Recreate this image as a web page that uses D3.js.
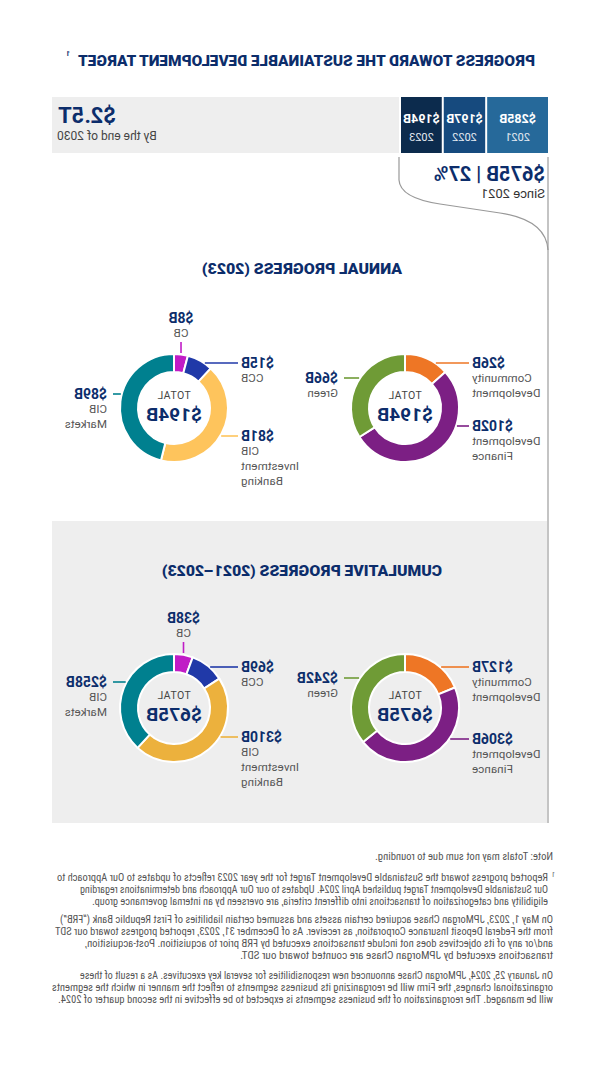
<!DOCTYPE html>
<html><head><meta charset="utf-8">
<script src="https://cdn.jsdelivr.net/npm/d3@7"></script>
<style>body{margin:0;background:#fff} svg{display:block}</style>
</head><body>
<svg id="c" width="602" height="1070"></svg>
<script>
// ---------------- DATA ----------------
const titleText = "PROGRESS TOWARD THE SUSTAINABLE DEVELOPMENT TARGET";
const targetLabel = "$2.5T";
const targetSub = "By the end of 2030";
const years = ["2021", "2022", "2023"];
const yearValues = [285, 197, 194];
const sinceLabel = "$675B | 27%";
const sinceSub = "Since 2021";

const annualTitle = "ANNUAL PROGRESS (2023)";
const cumulativeTitle = "CUMULATIVE PROGRESS (2021–2023)";
const annualTotal = "$194B";
const cumulativeTotal = "$675B";

const lobCategories = ["CB", "CCB", "CIB Investment Banking", "CIB Markets"];
const lobLines = [["CB"], ["CCB"], ["CIB", "Investment", "Banking"], ["CIB", "Markets"]];
const annualLob = [8, 15, 81, 89];
const cumulativeLob = [38, 69, 310, 258];

const objCategories = ["Community Development", "Development Finance", "Green"];
const objLines = [["Community", "Development"], ["Development", "Finance"], ["Green"]];
const annualObj = [26, 102, 66];
const cumulativeObj = [127, 306, 242];

const noteText = "Note: Totals may not sum due to rounding.";
const footnotes = [
  ["Reported progress toward the Sustainable Development Target for the year 2023 reflects of updates to Our Approach to",
   "Our Sustainable Development Target published April 2024. Updates to our Our Approach and determinations regarding",
   "eligibility and categorization of transactions into different criteria, are overseen by an internal governance group."],
  ["On May 1, 2023, JPMorgan Chase acquired certain assets and assumed certain liabilities of First Republic Bank (\u201CFRB\u201D)",
   "from the Federal Deposit Insurance Corporation, as receiver. As of December 31, 2023, reported progress toward our SDT",
   "and/or any of its objectives does not include transactions executed by FRB prior to acquisition. Post-acquisition,",
   "transactions executed by JPMorgan Chase are counted toward our SDT."],
  ["On January 25, 2024, JPMorgan Chase announced new responsibilities for several key executives. As a result of these",
   "organizational changes, the Firm will be reorganizing its business segments to reflect the manner in which the segments",
   "will be managed. The reorganization of the business segments is expected to be effective in the second quarter of 2024."]
];

// ---------------- STYLE / LAYOUT ----------------
const NAVY = "#0c2d6b";
const yearColors = ["#26699a", "#164a7e", "#0c2b4d"];
const lobColorsAnnual = ["#c01cc6", "#2039a8", "#fec45c", "#00808f"];
const lobColorsCum = ["#c01cc6", "#2039a8", "#ecb13d", "#00808f"];
const objColors = ["#ee7625", "#7c1f84", "#6f9b36"];
const R = 54, r = 36;
const FONT = "Roboto, 'Noto Sans', sans-serif";
const NARROW = "'Liberation Sans Narrow', 'Roboto Condensed', Roboto, sans-serif";

const svg = d3.select("#c");
// whole picture is mirrored horizontally, as in the reference
const g = svg.append("g").attr("transform", "translate(602,0) scale(-1,1)");

// Title
g.append("text").attr("x", 67).attr("y", 66)
  .attr("font-family", FONT).attr("font-weight", 900).attr("font-size", 15)
  .attr("fill", NAVY).attr("textLength", 457).attr("lengthAdjust", "spacingAndGlyphs")
  .text(titleText);
g.append("text").attr("x", 532).attr("y", 56).attr("font-family", FONT)
  .attr("font-weight", 700).attr("font-size", 7).attr("fill", NAVY).text("1");

// Top bar
const barTop = 97, barH = 56;
const xs = d3.scaleLinear().domain([0, d3.sum(yearValues)]).range([54, 203]);
g.append("rect").attr("x", 203).attr("y", barTop).attr("width", 550 - 203).attr("height", barH).attr("fill", "#eeeeee");
let acc = 0;
const stack = yearValues.map((v, i) => { const o = {v, i, a: acc}; acc += v; return o; });
const yb = g.selectAll(".yb").data(stack).enter().append("g");
yb.append("rect")
  .attr("x", d => xs(d.a))
  .attr("y", barTop)
  .attr("width", d => xs(d.a + d.v) - xs(d.a) - 2)
  .attr("height", barH)
  .attr("fill", d => yearColors[d.i]);
yb.append("text")
  .attr("x", d => (xs(d.a) + xs(d.a + d.v) - 2) / 2).attr("y", 123)
  .attr("text-anchor", "middle").attr("font-family", FONT).attr("font-weight", 700)
  .attr("font-size", 12.5).attr("fill", "#fff").text(d => "$" + d.v + "B");
yb.append("text")
  .attr("x", d => (xs(d.a) + xs(d.a + d.v) - 2) / 2).attr("y", 141)
  .attr("text-anchor", "middle").attr("font-family", FONT)
  .attr("font-size", 11).attr("fill", "#e6ecf3").text(d => years[d.i]);

g.append("text").attr("x", 544).attr("y", 123).attr("text-anchor", "end")
  .attr("font-family", FONT).attr("font-weight", 700).attr("font-size", 22).attr("fill", NAVY).text(targetLabel);
g.append("text").attr("x", 545).attr("y", 140).attr("text-anchor", "end")
  .attr("font-family", FONT).attr("font-size", 12).attr("fill", "#444").text(targetSub);

// bracket lines
g.append("line").attr("x1", 54).attr("x2", 54).attr("y1", 157).attr("y2", 823)
  .attr("stroke", "#c4c4c4").attr("stroke-width", 2);
// lower gray panel
g.append("rect").attr("x", 54).attr("y", 521).attr("width", 496).attr("height", 302).attr("fill", "#eeeeee");
g.append("line").attr("x1", 54).attr("x2", 54).attr("y1", 521).attr("y2", 823)
  .attr("stroke", "#c4c4c4").attr("stroke-width", 2);
g.append("path").attr("d", "M203,157 L203,180 Q202,198 162,204 L102,213 Q56,220 54,250")
  .attr("fill", "none").attr("stroke", "#999").attr("stroke-width", 1.2);

g.append("text").attr("x", 57).attr("y", 181).attr("font-family", FONT).attr("font-weight", 700)
  .attr("font-size", 20).attr("fill", NAVY).text(sinceLabel);
g.append("text").attr("x", 57).attr("y", 198).attr("font-family", FONT)
  .attr("font-size", 13).attr("fill", "#333").text(sinceSub);

// Section titles
g.append("text").attr("x", 200).attr("y", 274).attr("font-family", FONT).attr("font-weight", 900)
  .attr("font-size", 15).attr("fill", NAVY).attr("textLength", 200).attr("lengthAdjust", "spacingAndGlyphs")
  .text(annualTitle);
g.append("text").attr("x", 160).attr("y", 576).attr("font-family", FONT).attr("font-weight", 900)
  .attr("font-size", 15).attr("fill", NAVY).attr("textLength", 280).attr("lengthAdjust", "spacingAndGlyphs")
  .text(cumulativeTitle);

// Donuts
const pie = d3.pie().sort(null).startAngle(0).endAngle(-2 * Math.PI);
const arc = d3.arc().innerRadius(r).outerRadius(R);

function donut(cx, cy, values, colors, lines, total, placement) {
  const dg = g.append("g");
  const arcs = pie(values);
  dg.selectAll("path").data(arcs).enter().append("path")
    .attr("transform", `translate(${cx},${cy})`)
    .attr("d", arc).attr("fill", (d, i) => colors[i])
    .attr("stroke", "#fff").attr("stroke-width", 2);
  dg.append("text").attr("x", cx).attr("y", cy - 9).attr("text-anchor", "middle")
    .attr("font-family", FONT).attr("font-size", 10.5).attr("letter-spacing", 0.4).attr("fill", "#444").text("TOTAL");
  dg.append("text").attr("x", cx).attr("y", cy + 13).attr("text-anchor", "middle")
    .attr("font-family", FONT).attr("font-weight", 700).attr("font-size", 19).attr("fill", NAVY).text(total);

  arcs.forEach((a, i) => {
    const p = placement[i];
    const col = colors[i];
    let tx, anchor, vy;
    if (p.side === "top") {
      const mid = (a.startAngle + a.endAngle) / 2;
      tx = cx + R * Math.sin(mid);
      anchor = "middle";
      vy = cy - 90;
      dg.append("line").attr("x1", tx).attr("x2", tx).attr("y1", cy - 66).attr("y2", cy - R - 1)
        .attr("stroke", col).attr("stroke-width", 1.6);
    } else {
      vy = p.y;
      const dy = vy - cy;
      const edge = Math.sqrt(Math.max(0, R * R - dy * dy));
      const s = p.side === "L" ? -1 : 1;
      tx = cx + s * 67;
      anchor = p.side === "L" ? "end" : "start";
      dg.append("line").attr("x1", cx + s * (edge + 1)).attr("x2", cx + s * (p.side === "L" ? 64 : 61))
        .attr("y1", vy).attr("y2", vy).attr("stroke", col).attr("stroke-width", 1.6);
    }
    dg.append("text").attr("x", tx).attr("y", vy + 5).attr("text-anchor", anchor)
      .attr("font-family", FONT).attr("font-weight", 700).attr("font-size", 14).attr("fill", NAVY)
      .text("$" + values[i] + "B");
    lines[i].forEach((ln, j) => {
      dg.append("text").attr("x", tx).attr("y", vy + 15 * (j + 1) + 4).attr("text-anchor", anchor)
        .attr("font-family", FONT).attr("font-size", 11.5).attr("letter-spacing", 0.1).attr("fill", "#555").text(ln);
    });
  });
}

donut(428, 408, annualLob, lobColorsAnnual, lobLines, annualTotal,
  [{side: "top"}, {side: "L", y: 363}, {side: "L", y: 436}, {side: "R", y: 394}]);
donut(197, 408, annualObj, objColors, objLines, annualTotal,
  [{side: "L", y: 363}, {side: "L", y: 426}, {side: "R", y: 378}]);
donut(428, 708, cumulativeLob, lobColorsCum, lobLines, cumulativeTotal,
  [{side: "top"}, {side: "L", y: 667}, {side: "L", y: 737}, {side: "R", y: 682}]);
donut(197, 708, cumulativeObj, objColors, objLines, cumulativeTotal,
  [{side: "L", y: 667}, {side: "L", y: 739}, {side: "R", y: 678}]);

// Footnotes
const fnG = g.append("g").attr("font-family", NARROW).attr("font-size", 10.5).attr("fill", "#555");
function fline(x, y, w, t) {
  fnG.append("text").attr("x", x).attr("y", y).attr("textLength", w)
    .attr("lengthAdjust", "spacingAndGlyphs").text(t);
}
fline(49, 860, 178, noteText);
fnG.append("text").attr("x", 47).attr("y", 877).attr("font-size", 7).text("1");
const fnX = [54, 49, 49];
const fnW = [[491, 468, 456], [493, 498, 468, 313], [473, 501, 495]];
const fnY = [[881, 893, 905], [923, 935, 947, 959], [979, 991, 1003]];
footnotes.forEach((para, pi) => para.forEach((ln, li) => fline(fnX[pi], fnY[pi][li], fnW[pi][li], ln)));
</script>
</body></html>
